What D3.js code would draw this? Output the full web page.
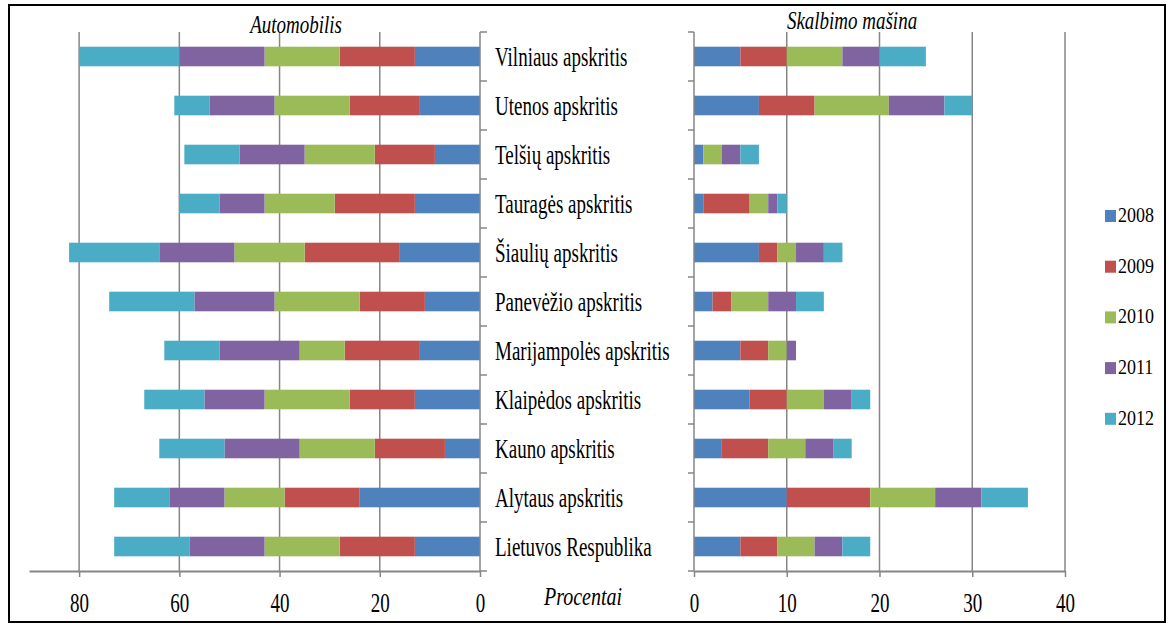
<!DOCTYPE html>
<html><head><meta charset="utf-8">
<script src="https://cdn.jsdelivr.net/npm/d3@7"></script>
<style>body{margin:0;background:#fff}svg{display:block}</style>
</head><body>
<svg id="c" width="1169" height="625"></svg>
<script>
const categories = ["Vilniaus apskritis","Utenos apskritis","Telšių apskritis","Tauragės apskritis","Šiaulių apskritis","Panevėžio apskritis","Marijampolės apskritis","Klaipėdos apskritis","Kauno apskritis","Alytaus apskritis","Lietuvos Respublika"];
const years = ["2008","2009","2010","2011","2012"];
const colors = ["#4F81BD","#C0504D","#9BBB59","#8064A2","#4BACC6"];
// Automobilis (per year, per category)
const auto2008 = [13,12,9,13,16,11,12,13,7,24,13];
const auto2009 = [15,14,12,16,19,13,15,13,14,15,15];
const auto2010 = [15,15,14,14,14,17,9,17,15,12,15];
const auto2011 = [17,13,13,9,15,16,16,12,15,11,15];
const auto2012 = [20,7,11,8,18,17,11,12,13,11,15];
// Skalbimo mašina
const wash2008 = [5,7,1,1,7,2,5,6,3,10,5];
const wash2009 = [5,6,0,5,2,2,3,4,5,9,4];
const wash2010 = [6,8,2,2,2,4,2,4,4,7,4];
const wash2011 = [4,6,2,1,3,3,1,3,3,5,3];
const wash2012 = [5,3,2,1,2,3,0,2,2,5,3];
const leftTicks = [0,20,40,60,80];
const rightTicks = [0,10,20,30,40];

const autoSeries = [auto2008,auto2009,auto2010,auto2011,auto2012];
const washSeries = [wash2008,wash2009,wash2010,wash2011,wash2012];

const svg = d3.select("#c");
const serif = "'Liberation Serif','Times New Roman',serif";
const grid = "#868686";

svg.append("rect").attr("x",9).attr("y",5).attr("width",1156).attr("height",617)
  .attr("fill","none").attr("stroke","#000").attr("stroke-width",2);

const yTop = 32, yBot = 571;
const y = d3.scaleBand().domain(categories).range([yTop,yBot]).paddingInner(0.6).paddingOuter(0.3);
const xL = d3.scaleLinear().domain([0,90]).range([480,29]);
const xR = d3.scaleLinear().domain([0,40]).range([694,1065]);

function stackData(series){
  return categories.map((c,i)=>{
    let acc=0; const o={cat:c, segs:[]};
    series.forEach((s,k)=>{ o.segs.push({k, x0:acc, x1:acc+s[i]}); acc+=s[i]; });
    return o;
  });
}

function panel(x, ticks, series, side){
  const g = svg.append("g");
  g.selectAll(".gl").data(ticks.filter(t=>t!==0)).join("line")
    .attr("x1",d=>x(d)).attr("x2",d=>x(d)).attr("y1",yTop).attr("y2",yBot)
    .attr("stroke",grid).attr("stroke-width",1.5);
  const data = stackData(series);
  data.forEach(row=>{
    g.selectAll(null).data(row.segs.filter(s=>s.x1>s.x0)).join("rect")
      .attr("x",s=>Math.min(x(s.x0),x(s.x1)))
      .attr("width",s=>Math.abs(x(s.x1)-x(s.x0)))
      .attr("y",y(row.cat)).attr("height",y.bandwidth())
      .attr("fill",s=>colors[s.k]);
  });
  const ax = g.append("g").attr("transform",`translate(0,${yBot})`)
    .call(d3.axisBottom(x).tickValues(ticks).tickSize(6).tickSizeOuter(0).tickFormat(d3.format("d")));
  ax.select(".domain").attr("stroke",grid).attr("stroke-width",2);
  ax.selectAll(".tick line").attr("stroke",grid).attr("stroke-width",1.5);
  ax.selectAll("text").attr("y",0).attr("dy",null)
    .attr("transform","translate(0,41) scale(1,1.45)")
    .attr("font-family",serif).attr("font-size",19).attr("fill","#000");
  const cg = g.append("g").attr("transform",`translate(${x(0)},0)`);
  cg.append("line").attr("x1",0).attr("x2",0).attr("y1",yTop).attr("y2",yBot).attr("stroke",grid).attr("stroke-width",1.5);
  const bounds = d3.range(categories.length+1).map(i=>yTop + i*y.step());
  cg.selectAll(".ct").data(bounds).join("line")
    .attr("x1",0).attr("x2",side==="left"?7:-6).attr("y1",d=>d).attr("y2",d=>d)
    .attr("stroke",grid).attr("stroke-width",1.5);
  return g;
}

panel(xL, leftTicks, autoSeries, "left");
panel(xR, rightTicks, washSeries, "right");

function stretched(x, yb, sy, txt, size, italic, anchor){
  return svg.append("text").attr("transform",`translate(${x},${yb}) scale(1,${sy})`)
    .attr("text-anchor",anchor||"start").attr("font-family",serif)
    .attr("font-style",italic?"italic":"normal").attr("font-size",size).attr("fill","#000").text(txt);
}

categories.forEach(c=>{ stretched(495, y(c)+y.bandwidth()/2+9.5, 1.45, c, 19, false); });

stretched(296, 33, 1.3, "Automobilis", 19, true, "middle");
stretched(852, 29, 1.3, "Skalbimo mašina", 19, true, "middle");
stretched(583, 605, 1.25, "Procentai", 20, true, "middle");

const lg = svg.append("g").selectAll("g").data(years).join("g")
  .attr("transform",(d,i)=>`translate(1105,${222 + i*50.7})`);
lg.append("rect").attr("x",0).attr("y",-12).attr("width",11).attr("height",12).attr("fill",(d,i)=>colors[i]);
lg.append("text").attr("transform","translate(13,0) scale(1,1.2)").attr("font-family",serif).attr("font-size",18).text(d=>d);
</script>
</body></html>
